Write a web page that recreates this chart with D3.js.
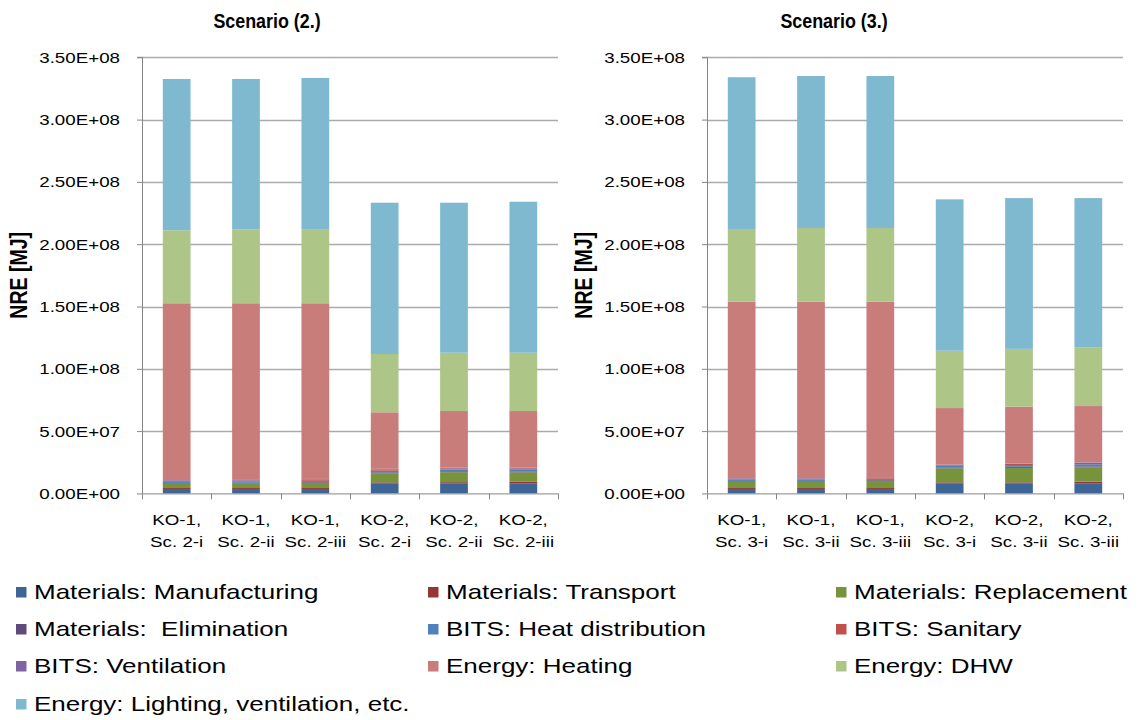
<!DOCTYPE html>
<html>
<head>
<meta charset="utf-8">
<script src="https://cdn.jsdelivr.net/npm/d3@7"></script>
<style>
  html, body { margin: 0; padding: 0; background: #fff; }
  svg { display: block; font-family: "Liberation Sans", Arial, sans-serif; }
  text { white-space: pre; }
</style>
</head>
<body>
<svg id="chart" width="1141" height="720"></svg>
<script>
// Stack components, bottom to top (values in MJ × 1e6)
const seriesNames = [
  "Materials: Manufacturing",
  "Materials: Transport",
  "Materials: Replacement",
  "Materials:  Elimination",
  "BITS: Heat distribution",
  "BITS: Sanitary",
  "BITS: Ventilation",
  "Energy: Heating",
  "Energy: DHW",
  "Energy: Lighting, ventilation, etc."
];
const seriesColors = [
  "#3D6596", "#963634", "#77933C", "#604A7B", "#4F81BD",
  "#C0504D", "#8064A2", "#C97D7B", "#ADC586", "#7EB9CF"
];

// Scenario (2.)
const categories2 = [
  ["KO-1,", "Sc. 2-i"], ["KO-1,", "Sc. 2-ii"], ["KO-1,", "Sc. 2-iii"],
  ["KO-2,", "Sc. 2-i"], ["KO-2,", "Sc. 2-ii"], ["KO-2,", "Sc. 2-iii"]
];
const manufacturing2 = [3.5, 3.5, 3.5, 7.8, 7.8, 7.8];
const transport2     = [0.8, 0.8, 0.8, 1.1, 1.2, 1.5];
const replacement2   = [3.5, 3.6, 4.3, 7.2, 8.0, 7.6];
const elimination2   = [0.6, 0.6, 0.6, 0.8, 0.8, 0.8];
const heatDist2      = [0.9, 0.9, 0.9, 1.3, 1.3, 1.3];
const sanitary2      = [0.9, 0.9, 1.0, 1.0, 1.0, 1.1];
const ventilation2   = [0.5, 0.5, 0.5, 0.5, 0.5, 0.5];
const heating2       = [141.9, 141.8, 141.0, 45.4, 45.5, 45.5];
const dhw2           = [58.6, 59.4, 59.0, 46.8, 46.8, 46.8];
const lighting2      = [121.4, 120.6, 121.8, 121.4, 120.4, 121.2];

// Scenario (3.)
const categories3 = [
  ["KO-1,", "Sc. 3-i"], ["KO-1,", "Sc. 3-ii"], ["KO-1,", "Sc. 3-iii"],
  ["KO-2,", "Sc. 3-i"], ["KO-2,", "Sc. 3-ii"], ["KO-2,", "Sc. 3-iii"]
];
const manufacturing3 = [3.5, 3.5, 3.5, 7.8, 7.8, 7.8];
const transport3     = [0.8, 0.8, 0.8, 1.1, 1.1, 1.6];
const replacement3   = [5.1, 5.1, 5.9, 11.2, 11.6, 11.5];
const elimination3   = [0.6, 0.6, 0.6, 0.8, 0.8, 0.8];
const heatDist3      = [1.0, 1.0, 1.0, 1.3, 1.5, 1.7];
const sanitary3      = [0.9, 0.9, 0.9, 0.9, 1.0, 1.1];
const ventilation3   = [0.4, 0.4, 0.4, 0.2, 0.3, 0.4];
const heating3       = [141.6, 141.6, 140.8, 45.2, 45.5, 45.2];
const dhw3           = [58.3, 59.1, 59.1, 46.0, 46.4, 46.9];
const lighting3      = [121.8, 122.0, 122.0, 121.5, 121.0, 120.0];

const yTicks = [0, 5e7, 1e8, 1.5e8, 2e8, 2.5e8, 3e8, 3.5e8];
const yTickLabels = ["0.00E+00", "5.00E+07", "1.00E+08", "1.50E+08", "2.00E+08",
                     "2.50E+08", "3.00E+08", "3.50E+08"];

// the whole figure uses horizontally widened lettering
const SX = 1.25;

const svg = d3.select("#chart");

// text placed at (x, y) and widened horizontally around its anchor
function wideText(parent, x, y, str, size, anchor, weight) {
  const g = parent.append("g").attr("transform", `translate(${x},${y}) scale(${SX},1)`);
  return g.append("text").attr("x", 0).attr("y", 0)
    .attr("text-anchor", anchor || "start")
    .attr("font-size", size).attr("font-weight", weight || "normal")
    .attr("fill", "#000").text(str);
}

function buildRows(cats, cols) {
  return cats.map((c, i) => {
    const row = { key: c.join(" ") };
    cols.forEach((arr, j) => { row[seriesNames[j]] = arr[i] * 1e6; });
    return row;
  });
}

function drawPanel(opts) {
  const { x0, x1, title, titleX, cats, cols } = opts;
  const top = 57.3, bottom = 493.4;
  const rows = buildRows(cats, cols);

  const x = d3.scaleBand().domain(rows.map(r => r.key)).range([x0, x1])
    .paddingInner(0.6).paddingOuter(0.3);
  const y = d3.scaleLinear().domain([0, 3.5e8]).range([bottom, top]);

  const g = svg.append("g");

  // gridlines
  g.append("g").selectAll("line").data(yTicks.filter(t => t > 0)).join("line")
    .attr("x1", x0).attr("x2", x1)
    .attr("y1", d => Math.round(y(d)) + 0.5).attr("y2", d => Math.round(y(d)) + 0.5)
    .attr("stroke", "#ABABAB").attr("stroke-width", 1.3);

  // stacked bars
  const stack = d3.stack().keys(seriesNames)(rows);
  g.append("g").selectAll("g").data(stack).join("g")
    .attr("fill", (d, i) => seriesColors[i])
    .selectAll("rect").data(d => d).join("rect")
    .attr("x", d => x(d.data.key))
    .attr("width", x.bandwidth())
    .attr("y", d => y(d[1]))
    .attr("height", d => Math.max(0, y(d[0]) - y(d[1])));

  // y axis: line and ticks from d3.axisLeft, labels drawn widened
  const yAxis = d3.axisLeft(y).tickValues(yTicks).tickFormat("").tickSize(5);
  const ya = g.append("g").attr("transform", `translate(${x0},0)`).call(yAxis);
  ya.select(".domain").attr("stroke", "#868686").attr("d", `M-5,${top}H0.5V${bottom}`);
  ya.selectAll(".tick line").attr("stroke", "#868686");
  yTicks.forEach((t, i) => {
    wideText(g, x0 - 22, y(t), yTickLabels[i], 15, "end").attr("dy", "0.36em");
  });

  // x axis with boundary ticks between categories
  const xa = g.append("g");
  xa.append("line").attr("x1", x0).attr("x2", x1)
    .attr("y1", bottom + 0.5).attr("y2", bottom + 0.5).attr("stroke", "#868686");
  const bounds = d3.range(cats.length + 1).map(i => x0 + i * x.step());
  xa.selectAll("line.b").data(bounds).join("line").attr("class", "b")
    .attr("x1", d => Math.round(d) + 0.5).attr("x2", d => Math.round(d) + 0.5)
    .attr("y1", bottom).attr("y2", bottom + 6).attr("stroke", "#868686");
  rows.forEach((r, i) => {
    const cx = x(r.key) + x.bandwidth() / 2;
    wideText(xa, cx, 525, cats[i][0], 15, "middle");
    wideText(xa, cx, 547, cats[i][1], 15, "middle");
  });

  // panel title (narrow bold lettering)
  svg.append("g").attr("transform", `translate(${titleX},27.5) scale(0.86,1)`)
    .append("text").attr("text-anchor", "middle")
    .attr("font-size", 20.8).attr("font-weight", "bold").text(title);

  // y axis title
  svg.append("g")
    .attr("transform", `translate(${x0 - 124},${(top + bottom) / 2}) scale(${SX},1) rotate(-90)`)
    .append("text").attr("text-anchor", "middle").attr("dy", "0.36em")
    .attr("font-size", 19.5).attr("font-weight", "bold").text("NRE [MJ]");
}

drawPanel({
  x0: 142, x1: 558, title: "Scenario (2.)", titleX: 267, cats: categories2,
  cols: [manufacturing2, transport2, replacement2, elimination2, heatDist2,
         sanitary2, ventilation2, heating2, dhw2, lighting2]
});
drawPanel({
  x0: 707, x1: 1123, title: "Scenario (3.)", titleX: 834, cats: categories3,
  cols: [manufacturing3, transport3, replacement3, elimination3, heatDist3,
         sanitary3, ventilation3, heating3, dhw3, lighting3]
});

// legend, three columns, row-major
const legendColX = [16, 428, 836];
const legendRowY = [592, 629, 666, 704];
const legend = svg.append("g");
seriesNames.forEach((name, i) => {
  const lx = legendColX[i % 3], ly = legendRowY[Math.floor(i / 3)];
  legend.append("rect").attr("x", lx).attr("y", ly - 5).attr("width", 10.5).attr("height", 10.5)
    .attr("fill", seriesColors[i]);
  wideText(legend, lx + 18, ly, name, 20.8, "start").attr("dy", "0.36em");
});
</script>
</body>
</html>
